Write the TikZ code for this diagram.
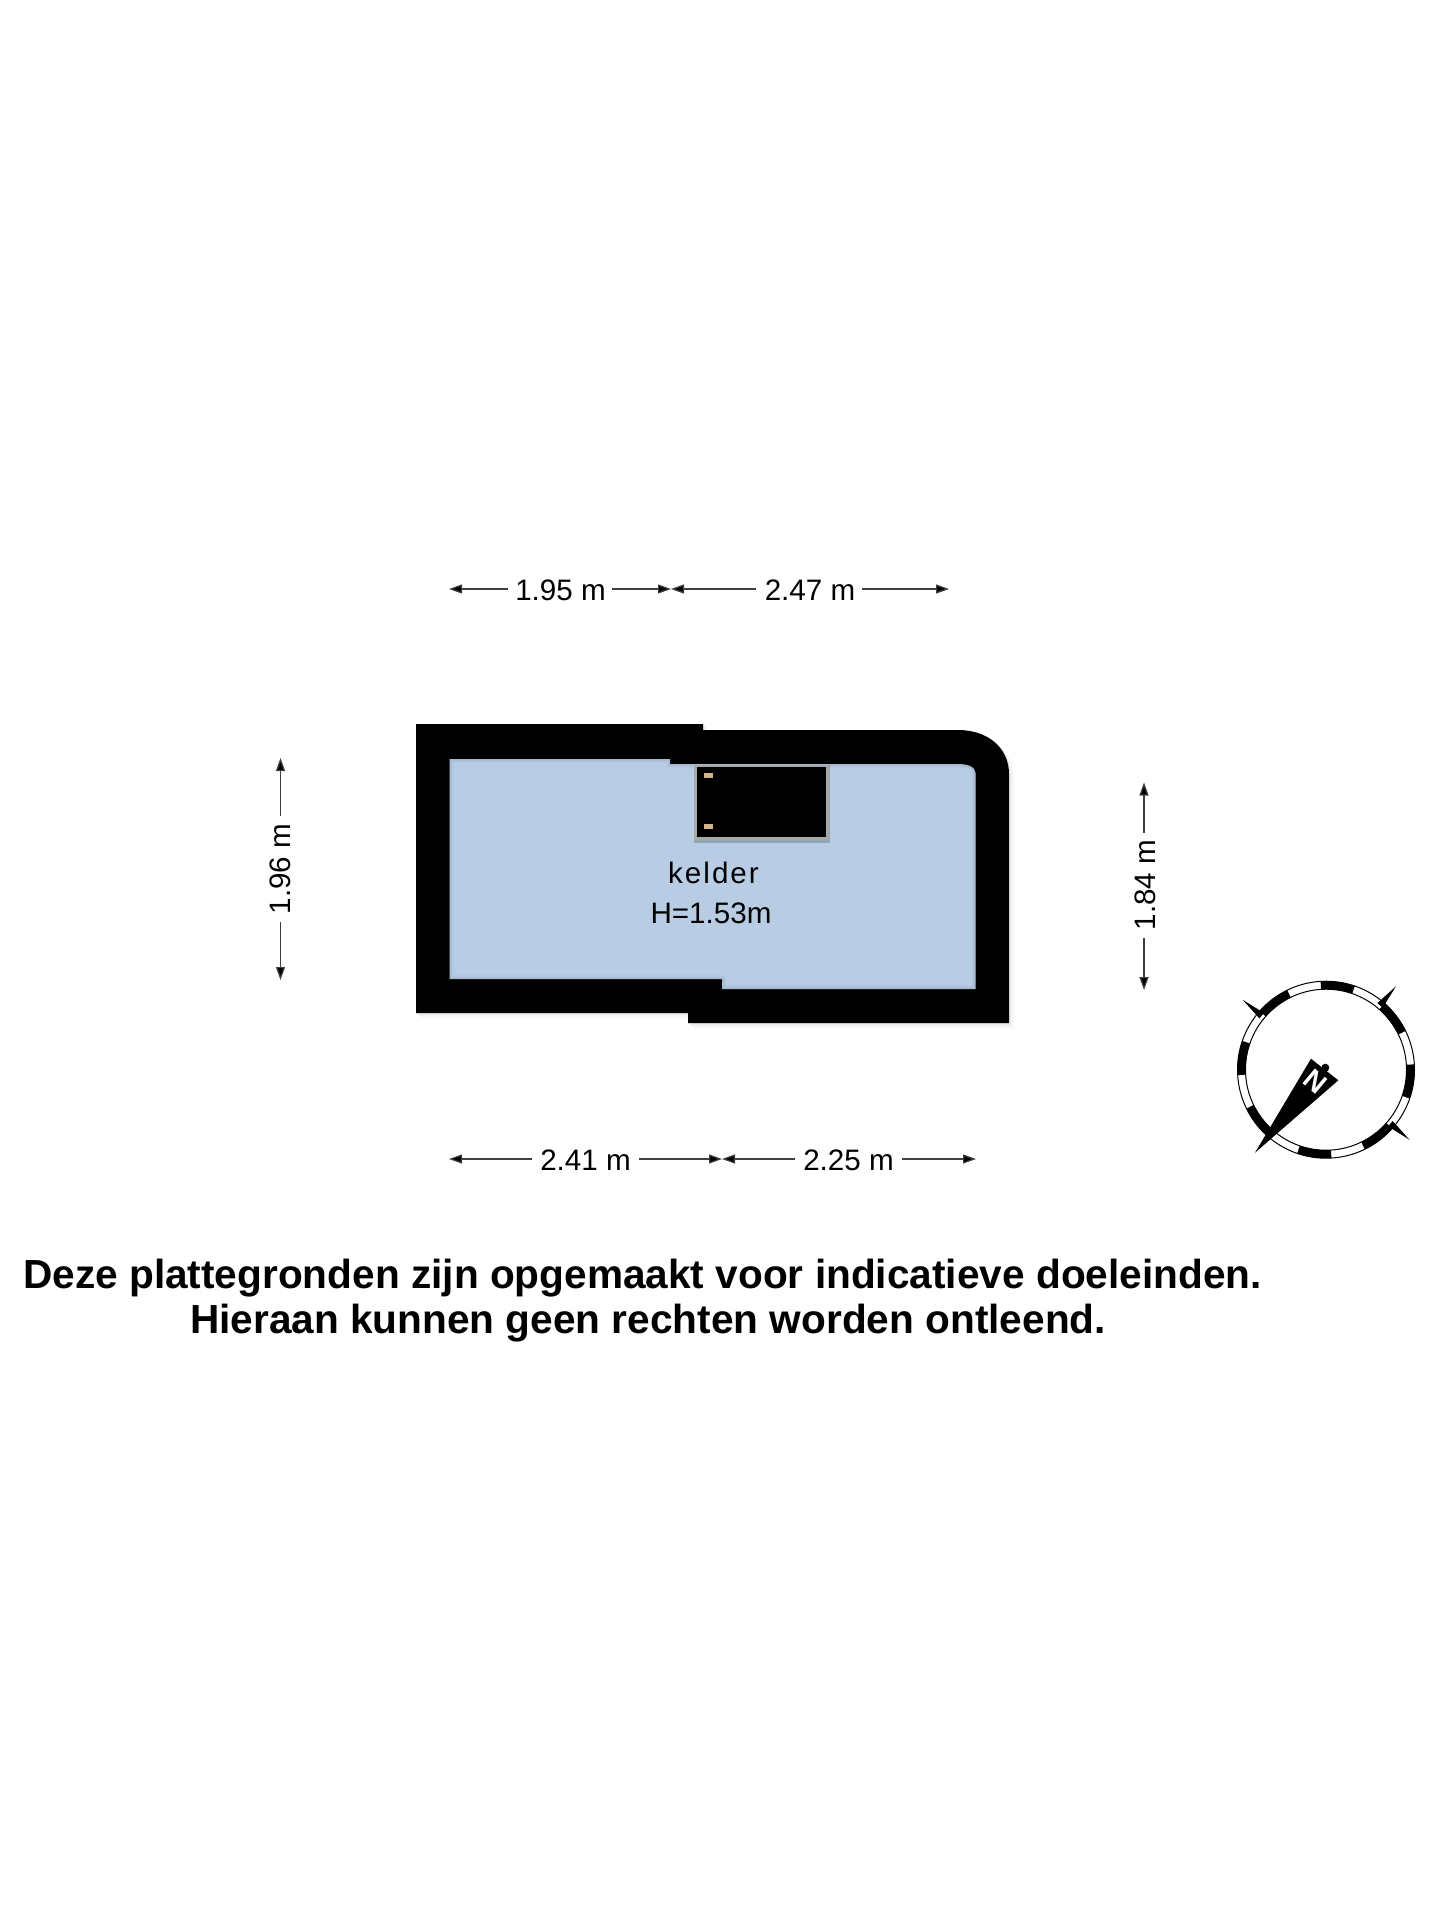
\documentclass[tikz,border=0pt]{standalone}
\usepackage{fontspec}
\setmainfont{Liberation Sans}
\usetikzlibrary{arrows.meta,calc}
\definecolor{roomblue}{HTML}{B8CCE4}
\definecolor{boxedge}{HTML}{A9A9A3}
\definecolor{pincolour}{HTML}{D2B58C}
\tikzset{
  x=1pt,y=-1pt,
  dimline/.style={draw=black!75,line width=1.2pt,{Triangle[length=13pt,width=9pt,fill=black]}-},
  dimtext/.style={font=\fontsize{29.6}{29.6}\selectfont,text=black,inner sep=0pt,anchor=center},
  notice/.style={font=\fontsize{40.6}{40.6}\bfseries\selectfont,text=black,inner sep=0pt,anchor=center},
  wallshape/.style={insert path={(416,724) -- (703,724) -- (703,730) -- (958,730) .. controls (988,730) and (1009,748) .. (1009,774)
   -- (1009,1023) -- (688,1023) -- (688,1013) -- (416,1013) -- cycle}},
  roomshape/.style={insert path={(449.5,759) -- (670,759) -- (670,764) -- (958,764) .. controls (968,764) and (975.5,767) .. (975.5,773)
   -- (975.5,989) -- (722,989) -- (722,979) -- (449.5,979) -- cycle}},
}
\begin{document}
\begin{tikzpicture}
\useasboundingbox (0,0) rectangle (1440,1920);
\fill[white] (0,0) rectangle (1440,1920);
% wall shadow
\fill[black!3,shift={(5,5)},wallshape];
\fill[black!5,shift={(3,3)},wallshape];
\fill[black!9,shift={(1.5,1.5)},wallshape];
% walls and room
\fill[black,wallshape];
\fill[roomblue,roomshape];
\begin{scope}
\clip[roomshape];
\draw[black!45!roomblue,opacity=.05,line width=8pt,roomshape];
\draw[black!45!roomblue,opacity=.07,line width=5pt,roomshape];
\draw[black!45!roomblue,opacity=.09,line width=2.5pt,roomshape];
\end{scope}
% boiler box
\fill[black!50!roomblue,opacity=.4] (694,765) rectangle (830,843);
\fill[boxedge] (694,765) rectangle (828.5,840);
\fill[black] (696.5,767) rectangle (826,837);
\fill[pincolour] (704,772.7) rectangle (712.5,777.5);
\fill[pincolour] (704,824.3) rectangle (712.5,829);
% room label
\node[dimtext] (kelder) at (713.5,873) {k\kern2pt e\kern2pt l\kern2pt d\kern2pt e\kern2pt r};
\node[dimtext] (height) at (711,913) {H=1.53m};
% top dimensions
\coordinate (t1l) at (449,589); \coordinate (t1m) at (671,589); \coordinate (t2r) at (949,589);
\coordinate (t1a) at (507.5,589); \coordinate (t1b) at (612,589);
\coordinate (t2a) at (756,589); \coordinate (t2b) at (862,589);
\node[dimtext] (t1) at (560.5,590) {1.95 m};
\node[dimtext] (t2) at (810,590) {2.47 m};
\draw[dimline] (t1l) -- (t1a);
\draw[dimline] (t1m) -- (t1b);
\draw[dimline] (t1m) -- (t2a);
\draw[dimline] (t2r) -- (t2b);
% bottom dimensions
\coordinate (b1l) at (449,1159); \coordinate (b1m) at (722,1159); \coordinate (b2r) at (976,1159);
\coordinate (b1a) at (532,1159); \coordinate (b1b) at (639,1159);
\coordinate (b2a) at (795,1159); \coordinate (b2b) at (902,1159);
\node[dimtext] (b1) at (585.5,1160) {2.41 m};
\node[dimtext] (b2) at (848.5,1160) {2.25 m};
\draw[dimline] (b1l) -- (b1a);
\draw[dimline] (b1m) -- (b1b);
\draw[dimline] (b1m) -- (b2a);
\draw[dimline] (b2r) -- (b2b);
% left dimension
\coordinate (lt) at (280.5,758); \coordinate (lb) at (280.5,980);
\coordinate (la) at (280.5,816); \coordinate (lc) at (280.5,922);
\node[dimtext,rotate=90] (l) at (280,869) {1.96 m};
\draw[dimline] (lt) -- (la);
\draw[dimline] (lb) -- (lc);
% right dimension
\coordinate (rt) at (1144,782.5); \coordinate (rb) at (1144,990);
\coordinate (ra) at (1144,833); \coordinate (rc) at (1144,938);
\node[dimtext,rotate=90] (r) at (1145.5,885) {1.84 m};
\draw[dimline] (rt) -- (ra);
\draw[dimline] (rb) -- (rc);
% notice
\node[notice] (n1) at (642.5,1278) {Deze plattegronden zijn opgemaakt voor indicatieve doeleinden.};
\node[notice] (n2) at (648,1323) {Hieraan kunnen geen rechten worden ontleend.};
% compass
\begin{scope}[shift={(1326,1069.7)}]
 \draw[black,line width=1pt] (0,0) circle[radius=88.5];
 \draw[black,line width=1pt] (0,0) circle[radius=80.5];
 \foreach \k in {0,...,7}{
  \pgfmathsetmacro{\aa}{26+45*\k}
  \pgfmathsetmacro{\bb}{\aa+22.5}
  \fill[black] ({88.5*cos(\aa)},{-88.5*sin(\aa)}) arc[start angle={-\aa},end angle={-\bb},radius=88.5]
     -- ({80.5*cos(\bb)},{-80.5*sin(\bb)}) arc[start angle={-\bb},end angle={-\aa},radius=80.5] -- cycle;
 }
 \foreach \t in {50,140,-40}{
  \fill[black] ({84*cos(\t)+3.5*sin(\t)},{-84*sin(\t)+3.5*cos(\t)}) -- ({109*cos(\t)},{-109*sin(\t)}) -- ({84*cos(\t)-3.5*sin(\t)},{-84*sin(\t)-3.5*cos(\t)}) -- cycle;
 }
 % needle
 \fill[black] (-71,83) -- (-15,-11) -- (12.3,10.6) -- cycle;
 \fill[black] (-0.7,-2) circle[radius=4];
 \node[font=\fontsize{28}{28}\bfseries\selectfont,text=white,rotate=-40,inner sep=0pt] (needleN) at (-11,12) {N};
\end{scope}
\end{tikzpicture}
\end{document}
